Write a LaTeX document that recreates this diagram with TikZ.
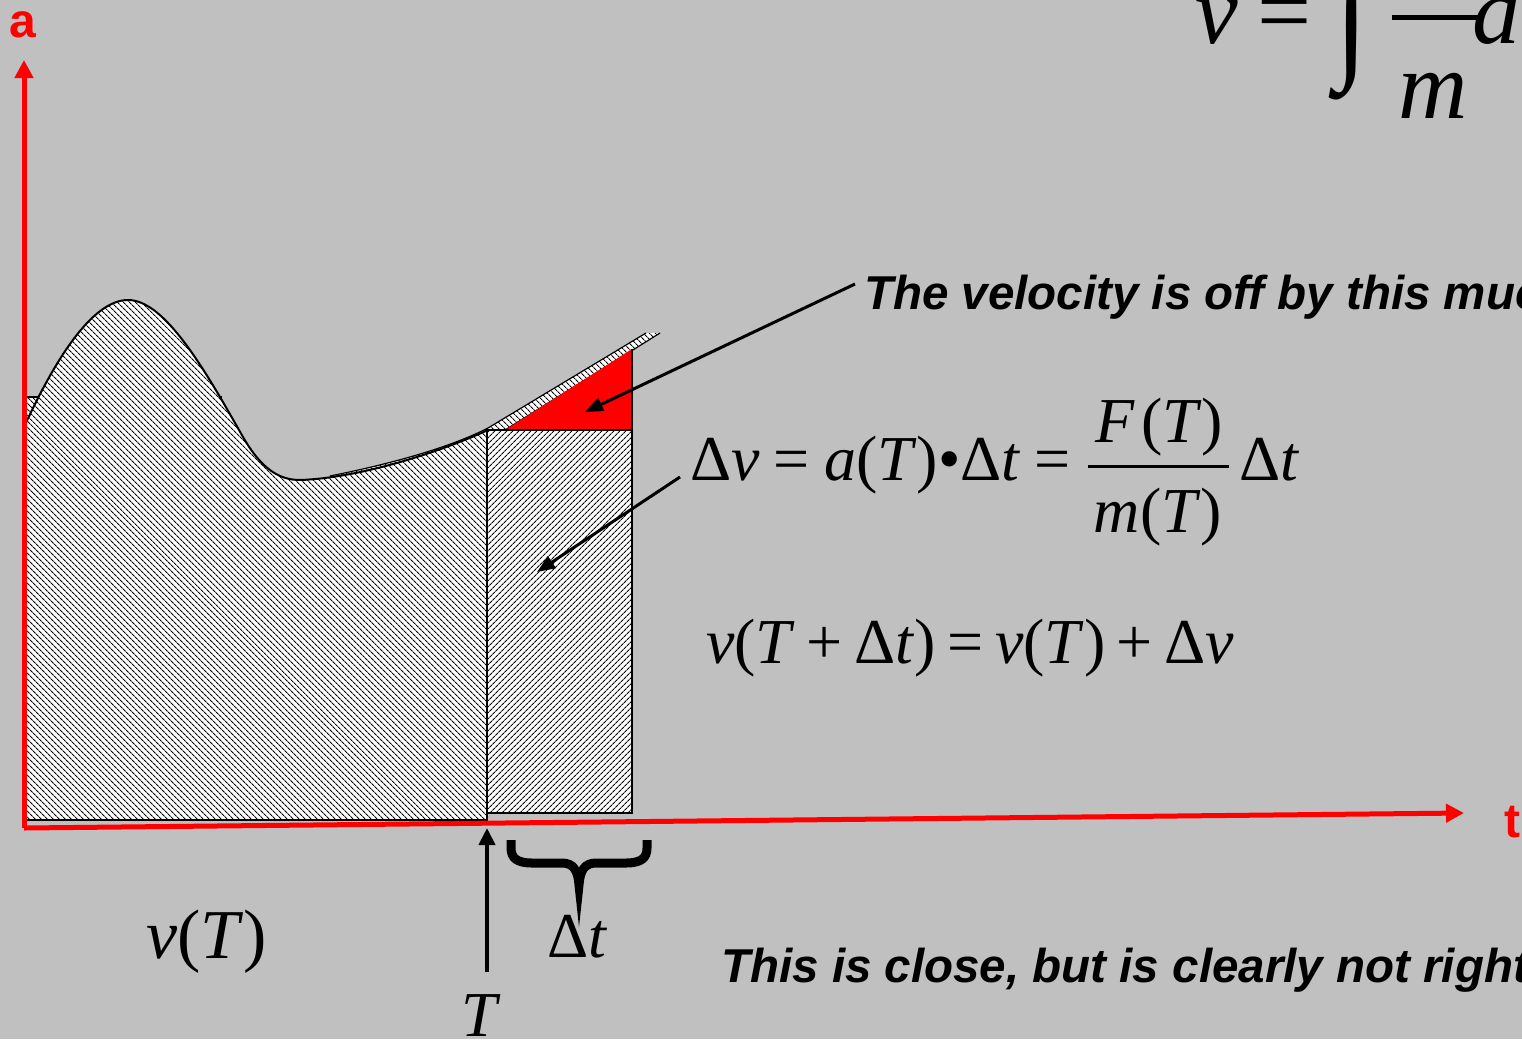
\documentclass[tikz,border=0pt]{standalone}
\usepackage{fontspec}
\usepackage{graphicx}
\setmainfont{Liberation Serif}
\newfontfamily\sansf{Liberation Sans}
\usetikzlibrary{patterns.meta,arrows.meta}
\definecolor{bg}{RGB}{192,192,192}
\definecolor{axred}{RGB}{255,0,0}
\tikzset{
  eq/.style={inner sep=0pt, font=\fontsize{64}{64}\selectfont},
  bigeq/.style={inner sep=0pt, font=\fontsize{96}{96}\selectfont},
  note/.style={inner sep=0pt, font=\sansf\bfseries\itshape\fontsize{47.5}{48}\selectfont},
  axlabel/.style={inner sep=0pt, text=axred, font=\sansf\bfseries\fontsize{48}{48}\selectfont},
  axisline/.style={draw=axred, line width=5pt, -{Triangle[length=18pt,width=18pt]}},
  pointer/.style={draw=black, line width=3pt, -{Triangle[length=18pt,width=14pt]}},
  hatchL/.style={preaction={fill=white}, pattern={Lines[angle=-45,distance=4pt,line width=1.15pt]}, pattern color=black},
  hatchR/.style={preaction={fill=white}, pattern={Lines[angle=45,distance=4pt,line width=1.15pt]}, pattern color=black},
  outline/.style={draw=black, line width=2pt},
  thinline/.style={draw=black, line width=1.2pt},
}
\def\curvepath{(24,427) .. controls (48,375) and (88,300) .. (128,300) .. controls (165,300) and (205,370) .. (243,437) .. controls (262,470) and (280,480) .. (300,480) .. controls (360,478) and (440,452) .. (488,430)}
\begin{document}
\begin{tikzpicture}[x=1pt,y=-1pt]
\fill[bg] (0,0) rectangle (1522,1039);
\useasboundingbox (0,0) rectangle (1522,1039);
\clip (0,0) rectangle (1522,1039);

% thin band along the curve (extension)
\path[hatchL] (330,476) .. controls (380,466) and (445,450) .. (488,428) -- (646,333) -- (660,333) -- (505,430) -- (488,432) -- (412,459) -- (330,480) -- cycle;
\draw[thinline] (330,476) .. controls (380,466) and (445,450) .. (488,428) -- (646,333);
\draw[thinline] (505,430) -- (660,333);

% small corner of the left block
\path[hatchL] (24,397) -- (42,397) -- (24,430) -- cycle;
\draw[outline] (24,397) -- (42,397);
\draw[line width=1.5pt] (212,397) -- (222,397);

% left region under the curve
\path[hatchL] (24,820) -- \curvepath -- (488,820) -- cycle;
\draw[outline] \curvepath;
\draw[outline] (24,397) -- (24,820) -- (488,820);

% right rectangle and red triangle
\path[hatchR, outline] (487,430) rectangle (632,813);
\fill[axred] (505,430) -- (632,430) -- (632,349) -- cycle;
\draw[outline] (632,349) -- (632,430) -- (487,430);
\draw[outline] (487,430) -- (487,820);

% axes
\coordinate (ybot) at (24,828);
\coordinate (ytip) at (24,60);
\coordinate (xtip) at (1464,813);
\draw[axisline] (ybot) -- (ytip);
\draw[axisline] (ybot) -- (xtip);
\node[axlabel, anchor=base] (alab) at (23,37) {a};
\node[axlabel, anchor=base west] (tlab) at (1504,837) {t};

% top formula
\node[bigeq, anchor=base west] (vtop) at (1195,43) {\textit{v}\hspace{0.2em}=};
\node[bigeq, anchor=south] (inttop) at (1352,100) {\scalebox{1.25}[1.5]{\bfseries ∫}};
\draw[line width=5pt] (1392,17) -- (1481,17);
\node[bigeq, anchor=base west] (mtop) at (1398,118) {\textit{m}};
\node[bigeq, anchor=base west] (dtop) at (1472,43) {\textit{d}};

% notes
\node[note, anchor=base west] (offtxt) at (864,309) {The velocity is off by this much};
\node[note, anchor=base west] (closetxt) at (721,982) {This is close, but is clearly not right};
\coordinate (p1) at (855,284);
\coordinate (h1) at (585,412);
\draw[pointer] (p1) -- (h1);

% equations
\node[eq, anchor=base west] (dveq) at (690,480) {Δ\textit{v}\hspace{0.22em}=\hspace{0.22em}\textit{a}(\textit{T})•Δ\textit{t}\hspace{0.22em}=};
\draw[line width=3pt] (1088,466) -- (1229,466);
\node[eq, anchor=base] (num) at (1159,442) {\textit{F}\hspace{0.1em}(\textit{T})};
\node[eq, anchor=base] (den) at (1158,532) {\textit{m}(\textit{T})};
\node[eq, anchor=base west] (dtr) at (1239,480) {Δ\textit{t}};
\coordinate (p2) at (680,477);
\coordinate (h2) at (537,572);
\draw[pointer] (p2) -- (h2);
\node[eq, anchor=base west] (veq) at (706,663) {\textit{v}(\textit{T}\hspace{0.18em}+\hspace{0.18em}Δ\textit{t})\hspace{0.18em}=\hspace{0.18em}\textit{v}(\textit{T})\hspace{0.18em}+\hspace{0.18em}Δ\textit{v}};

% bottom labels
\node[eq, anchor=base west, font=\fontsize{70}{70}\selectfont] (vT) at (146,958) {\textit{v}(\textit{T})};
\node[eq, anchor=base west] (dtb) at (547,957) {Δ\textit{t}};
\node[eq, anchor=base] (Tlab) at (481,1036) {\textit{T}};
\coordinate (Tfoot) at (487,972);
\coordinate (Ttip) at (487,828);
\draw[draw=black, line width=4pt, -{Triangle[length=17pt,width=16pt]}] (Tfoot) -- (Ttip);

% brace
\draw[line width=9pt] (511,840) -- (511,848) .. controls (511,858) and (517,863) .. (532,863) -- (562,863) .. controls (573,863) and (578,870) .. (579,885) .. controls (580,870) and (585,863) .. (596,863) -- (626,863) .. controls (641,863) and (647,858) .. (647,848) -- (647,840);
\end{tikzpicture}
\end{document}
